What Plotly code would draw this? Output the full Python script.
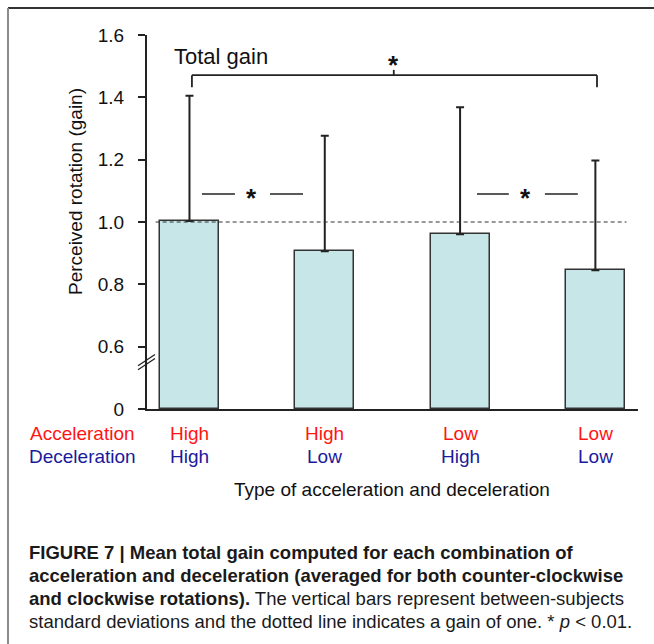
import plotly.graph_objects as go

# values
conditions = ["HH", "HL", "LH", "LL"]
accel_labels = ["High", "High", "Low", "Low"]
decel_labels = ["High", "Low", "High", "Low"]
mean_gain = [1.003, 0.906, 0.961, 0.845]
sd_gain = [0.402, 0.371, 0.407, 0.352]

y_ticks = [0.4, 0.6, 0.8, 1.0, 1.2, 1.4, 1.6]
y_tick_text = ["0", "0.6", "0.8", "1.0", "1.2", "1.4", "1.6"]
AXIS_FLOOR = 0.4  # the broken axis puts "0" where 0.4 would be

# pixel box of the plot area, used to place things outside it
PLOT_L, PLOT_R, PLOT_T, PLOT_B = 147, 638, 35, 409
W, H = 654, 644


def px_x(px):
    return (px - PLOT_L) / (PLOT_R - PLOT_L)


def px_y(py):
    return (PLOT_B - py) / (PLOT_B - PLOT_T)


FONT = "Liberation Sans, Arial, sans-serif"
RED = "#ff1414"
NAVY = "#1a1a9c"
INK = "#222222"

x = list(range(len(conditions)))

fig = go.Figure()
fig.add_trace(go.Bar(
    x=x,
    y=[m - AXIS_FLOOR for m in mean_gain],
    base=AXIS_FLOOR,
    width=0.436,
    marker=dict(color="#c7e6e7", line=dict(color="#333333", width=1.5)),
    error_y=dict(type="data", array=sd_gain, arrayminus=[0] * len(sd_gain),
                 symmetric=False, color=INK, thickness=2, width=4),
    hoverinfo="skip",
))

shapes = []
# dotted line at gain of one
shapes.append(dict(type="line", xref="x", yref="y", x0=-0.25, x1=3.23, y0=1.0, y1=1.0,
                   line=dict(color="#333333", width=1.2, dash="4px,3px")))

# total gain bracket
br_y, leg_y = 1.471, 1.432
for x0, y0, x1, y1 in [(0.018, br_y, 3.012, br_y), (0.018, br_y, 0.018, leg_y),
                       (3.012, br_y, 3.012, leg_y), (1.51, br_y, 1.51, 1.488)]:
    shapes.append(dict(type="line", xref="x", yref="y", x0=x0, x1=x1, y0=y0, y1=y1,
                       line=dict(color=INK, width=1.8)))

# pairwise comparison marks "— * —"
pair_dashes = [(0.092, 0.336), (0.595, 0.839), (2.125, 2.36), (2.627, 2.87)]
for a, b in pair_dashes:
    shapes.append(dict(type="line", xref="x", yref="y", x0=a, x1=b, y0=1.09, y1=1.09,
                       line=dict(color=INK, width=1.6)))

# axis break marks
for dy in (0, 0.013):
    shapes.append(dict(type="line", xref="paper", yref="y",
                       x0=px_x(138), x1=px_x(155), y0=0.526 + dy, y1=0.562 + dy,
                       line=dict(color=INK, width=1.3)))

# figure frame (top and left edges)
shapes.append(dict(type="line", xref="paper", yref="paper", x0=px_x(8), x1=px_x(654),
                   y0=px_y(8), y1=px_y(8), line=dict(color="#333333", width=2)))
shapes.append(dict(type="line", xref="paper", yref="paper", x0=px_x(8), x1=px_x(8),
                   y0=px_y(8), y1=px_y(650), line=dict(color="#8c8c8c", width=2)))

ann = []
ann.append(dict(text="Total gain", x=-0.13, y=1.532, xref="x", yref="y", xanchor="left",
                yanchor="middle", showarrow=False, font=dict(size=22, color="#111111")))
for ax, ay in [(1.51, 1.503), (0.455, 1.078), (2.487, 1.078)]:
    ann.append(dict(text="<b>*</b>", x=ax, y=ay, xref="x", yref="y", showarrow=False,
                    xanchor="center", yanchor="middle", font=dict(size=26, color="#111111")))


def label(text, xp, yp, color="#111111", xref="paper", **kw):
    ann.append(dict(text=text, x=xp, y=yp, xref=xref, yref="paper", showarrow=False,
                    xanchor="center", yanchor="middle", font=dict(size=19, color=color), **kw))


label("Perceived rotation (gain)", px_x(75), px_y(192), textangle=-90)
label("Acceleration", px_x(82), px_y(433), RED)
label("Deceleration", px_x(82), px_y(456), NAVY)
for i in x:
    label(accel_labels[i], i, px_y(433), RED, xref="x")
    label(decel_labels[i], i, px_y(456), NAVY, xref="x")
label("Type of acceleration and deceleration", px_x(392), px_y(489))

caption = [
    "<b>FIGURE 7 | Mean total gain computed for each combination of</b>",
    "<b>acceleration and deceleration (averaged for both counter-clockwise</b>",
    "<b>and clockwise rotations).</b> The vertical bars represent between-subjects",
    "standard deviations and the dotted line indicates a gain of one. * <i>p</i> &lt; 0.01.",
]
for k, line in enumerate(caption):
    ann.append(dict(text=line, x=px_x(27), y=px_y(552 + 23 * k), xref="paper", yref="paper",
                    xanchor="left", yanchor="middle", showarrow=False, align="left",
                    font=dict(size=18.5, color="#1a1a1a")))

fig.update_layout(
    width=W, height=H,
    margin=dict(l=PLOT_L, r=W - PLOT_R, t=PLOT_T, b=H - PLOT_B),
    paper_bgcolor="white", plot_bgcolor="white",
    font=dict(family=FONT, color="#111111"),
    showlegend=False,
    bargap=0,
    shapes=shapes,
    annotations=ann,
    xaxis=dict(range=[-0.314, 3.315], showticklabels=False, ticks="", showgrid=False,
               zeroline=False, showline=True, linecolor=INK, linewidth=2, fixedrange=True),
    yaxis=dict(range=[0.4, 1.6], tickvals=y_ticks, ticktext=y_tick_text, ticks="outside",
               ticklen=7, tickwidth=1.5, tickcolor=INK, showgrid=False, zeroline=False,
               showline=True, linecolor=INK, linewidth=2, ticklabelstandoff=10,
               tickfont=dict(size=19, color="#111111"), fixedrange=True),
)

# the page's default body margin would shift the figure by 8px
fig.write_html("out.html", config={"displayModeBar": False},
               post_script="document.body.style.margin='0';")
